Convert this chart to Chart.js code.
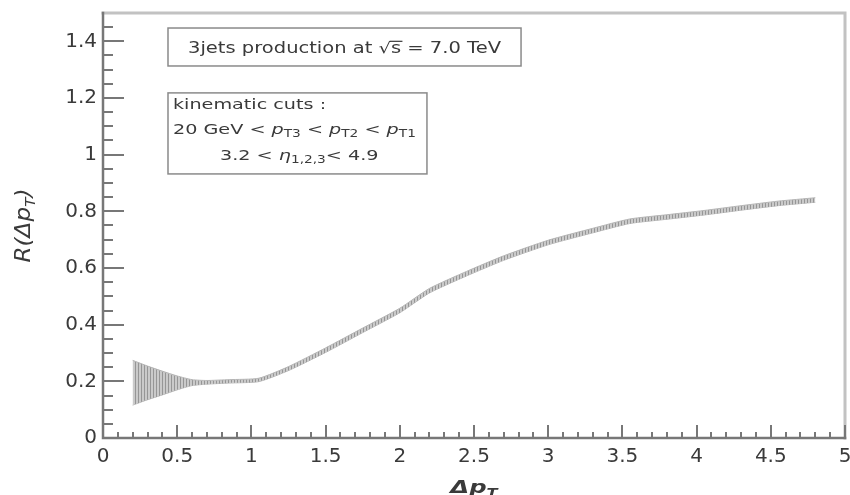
<!DOCTYPE html>
<html>
<head>
<meta charset="utf-8">
<script src="https://cdn.jsdelivr.net/npm/chart.js@4.4.1/dist/chart.umd.min.js"></script>
<style>
  html, body { margin: 0; padding: 0; background: #fff; }
  #wrap { position: relative; width: 850px; height: 495px; }
</style>
</head>
<body>
<div id="wrap"><canvas id="chart" width="850" height="495"></canvas></div>
<script>
// values: R(dpT) band (upper / lower edge)
const dpt    = [0.2, 0.3, 0.4, 0.5, 0.6, 0.7, 0.85, 1.05, 1.25, 1.5, 1.75, 2.0, 2.2, 2.45, 2.7, 3.0, 3.3, 3.55, 3.8, 4.05, 4.3, 4.55, 4.8];
const rUpper = [0.274, 0.254, 0.236, 0.219, 0.206, 0.203, 0.206, 0.211, 0.252, 0.318, 0.388, 0.458, 0.528, 0.588, 0.643, 0.698, 0.740, 0.773, 0.788, 0.803, 0.820, 0.836, 0.848];
const rLower = [0.116, 0.135, 0.152, 0.170, 0.185, 0.190, 0.194, 0.199, 0.238, 0.302, 0.372, 0.442, 0.512, 0.572, 0.627, 0.682, 0.724, 0.757, 0.772, 0.787, 0.804, 0.820, 0.832];

const xTicks = [0, 0.5, 1, 1.5, 2, 2.5, 3, 3.5, 4, 4.5, 5];
const yTicks = [0, 0.2, 0.4, 0.6, 0.8, 1, 1.2, 1.4];

const TXT = '#3a3a3a';
const FONT = '"DejaVu Sans", "Liberation Sans", sans-serif';

// vertical hatching like the ROOT error band
function hatch() {
  const c = document.createElement('canvas');
  c.width = 3; c.height = 4;
  const g = c.getContext('2d');
  g.fillStyle = '#cacaca';
  g.fillRect(0, 0, 3, 4);
  g.fillStyle = '#969696';
  g.fillRect(0, 0, 1, 4);
  return g.createPattern(c, 'repeat');
}

// draw a line of text with italics / subscripts, horizontally stretched a bit
function rich(ctx, parts, x, y, size, align, sx) {
  sx = sx || 1;
  const fontOf = (p) => (p.it ? 'italic ' : '') + (p.bold ? 'bold ' : '') +
    Math.round(p.sub ? size * 0.68 : size) + 'px ' + FONT;
  let w = 0;
  parts.forEach(p => { ctx.font = fontOf(p); w += ctx.measureText(p.t).width; });
  ctx.save();
  ctx.translate(x, y);
  ctx.scale(sx, 1);
  let cx = align === 'center' ? -w / 2 : (align === 'right' ? -w : 0);
  ctx.textBaseline = 'alphabetic';
  ctx.textAlign = 'left';
  parts.forEach(p => {
    ctx.font = fontOf(p);
    const dy = p.sub ? size * 0.24 : 0;
    ctx.fillText(p.t, cx, dy);
    const pw = ctx.measureText(p.t).width;
    if (p.over) {
      ctx.fillRect(cx - 1, -size * 0.82, pw + 2, 1.2);
    }
    cx += pw;
  });
  ctx.restore();
}

const rootFrame = {
  id: 'rootFrame',
  afterDraw(chart) {
    const ctx = chart.ctx;
    const xs = chart.scales.x, ys = chart.scales.y;
    const a = chart.chartArea;
    ctx.save();

    // frame
    ctx.lineCap = 'square';
    ctx.strokeStyle = '#c2c2c2';
    ctx.lineWidth = 3;
    ctx.beginPath();
    ctx.moveTo(a.left, a.top); ctx.lineTo(a.right, a.top); ctx.lineTo(a.right, a.bottom);
    ctx.stroke();
    ctx.strokeStyle = '#777';
    ctx.lineWidth = 2.5;
    ctx.beginPath();
    ctx.moveTo(a.left, a.top); ctx.lineTo(a.left, a.bottom); ctx.lineTo(a.right, a.bottom);
    ctx.stroke();

    // inward ticks
    ctx.lineCap = 'butt';
    ctx.strokeStyle = '#777';
    ctx.lineWidth = 2;
    ctx.beginPath();
    for (let v = 0; v <= 5.0001; v += 0.1) {
      const px = Math.round(xs.getPixelForValue(v));
      const major = xTicks.some(t => Math.abs(t - v) < 1e-6);
      ctx.moveTo(px, a.bottom); ctx.lineTo(px, a.bottom - (major ? 13 : 6));
    }
    for (let v = 0; v <= 1.4501; v += 0.05) {
      const py = Math.round(ys.getPixelForValue(v));
      const major = yTicks.some(t => Math.abs(t - v) < 1e-6);
      ctx.moveTo(a.left, py); ctx.lineTo(a.left + (major ? 21 : 10), py);
    }
    ctx.stroke();

    // axis titles
    ctx.fillStyle = TXT;
    rich(ctx, [{ t: 'Δp', it: true, bold: true }, { t: 'T', it: true, bold: true, sub: true }],
      (a.left + a.right) / 2, 493, 18, 'center', 1.35);
    ctx.save();
    ctx.translate(30, (a.top + a.bottom) / 2);
    ctx.rotate(-Math.PI / 2);
    rich(ctx, [{ t: 'R(Δp', it: true }, { t: 'T', it: true, sub: true }, { t: ')', it: true }],
      0, 0, 21, 'center', 1.1);
    ctx.restore();

    // text boxes, anchored in data coordinates
    ctx.strokeStyle = '#8a8a8a';
    ctx.lineWidth = 1.5;
    const b1 = { l: xs.getPixelForValue(0.438), r: xs.getPixelForValue(2.817),
                 t: ys.getPixelForValue(1.447), b: ys.getPixelForValue(1.313) };
    ctx.strokeRect(b1.l, b1.t, b1.r - b1.l, b1.b - b1.t);
    rich(ctx, [{ t: '3jets production at √' }, { t: 's', over: true }, { t: ' = 7.0 TeV' }],
      (b1.l + b1.r) / 2, b1.t + 25, 15, 'center', 1.3);

    const b2 = { l: xs.getPixelForValue(0.438), r: xs.getPixelForValue(2.183),
                 t: ys.getPixelForValue(1.218), b: ys.getPixelForValue(0.932) };
    ctx.strokeRect(b2.l, b2.t, b2.r - b2.l, b2.b - b2.t);
    rich(ctx, [{ t: 'kinematic cuts :' }], b2.l + 5, b2.t + 16, 14, 'left', 1.37);
    rich(ctx, [{ t: '20 GeV < ' }, { t: 'p', it: true }, { t: 'T3', sub: true },
               { t: ' < ' }, { t: 'p', it: true }, { t: 'T2', sub: true },
               { t: ' < ' }, { t: 'p', it: true }, { t: 'T1', sub: true }],
      b2.l + 5, b2.t + 41, 14, 'left', 1.37);
    rich(ctx, [{ t: '3.2 < ' }, { t: 'η', it: true }, { t: '1,2,3', sub: true }, { t: '< 4.9' }],
      b2.l + 52, b2.t + 67, 14, 'left', 1.37);

    ctx.restore();
  }
};

const numLabel = (v) => String(+Number(v).toFixed(2));

new Chart(document.getElementById('chart'), {
  type: 'line',
  data: {
    labels: dpt,
    datasets: [
      {
        label: 'upper',
        data: dpt.map((x, i) => ({ x: x, y: rUpper[i] })),
        borderColor: '#b5b5b5',
        borderWidth: 1,
        pointRadius: 0,
        tension: 0.2,
        fill: '+1',
        backgroundColor: hatch(),
      },
      {
        label: 'lower',
        data: dpt.map((x, i) => ({ x: x, y: rLower[i] })),
        borderColor: '#b5b5b5',
        borderWidth: 1,
        pointRadius: 0,
        tension: 0.2,
        fill: false,
      }
    ]
  },
  options: {
    responsive: false,
    animation: false,
    devicePixelRatio: 1,
    layout: { padding: { left: 0, right: 5, top: 13, bottom: 0 } },
    plugins: {
      legend: { display: false },
      tooltip: { enabled: false },
    },
    scales: {
      x: {
        type: 'linear',
        min: 0,
        max: 5,
        afterBuildTicks: (s) => { s.ticks = xTicks.map(v => ({ value: v })); },
        afterFit: (s) => { s.height = 57; s.paddingLeft = 0; s.paddingRight = 0; },
        grid: { display: false, drawTicks: false },
        border: { display: false },
        ticks: {
          maxRotation: 0,
          autoSkip: false,
          padding: 7,
          color: TXT,
          font: { family: FONT, size: 20 },
          callback: numLabel,
        },
      },
      y: {
        type: 'linear',
        min: 0,
        max: 1.5,
        afterBuildTicks: (s) => { s.ticks = yTicks.map(v => ({ value: v })); },
        afterFit: (s) => { s.width = 103; s.paddingTop = 0; s.paddingBottom = 0; },
        grid: { display: false, drawTicks: false },
        border: { display: false },
        ticks: {
          autoSkip: false,
          padding: 6,
          color: TXT,
          font: { family: FONT, size: 20 },
          callback: numLabel,
        },
      }
    }
  },
  plugins: [rootFrame]
});
</script>
</body>
</html>
